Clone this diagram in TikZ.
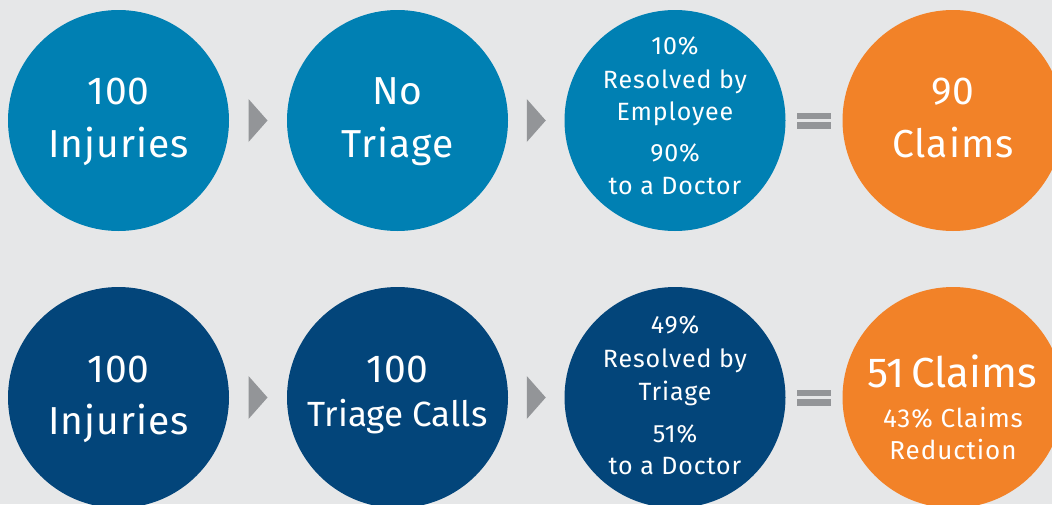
\documentclass[tikz,border=0pt]{standalone}
\usepackage{fontspec}
\setmainfont{Fira Sans}
\usetikzlibrary{calc}
\definecolor{bg}{HTML}{E6E7E8}
\definecolor{topblue}{HTML}{0080B3}
\definecolor{navy}{HTML}{03457A}
\definecolor{orangec}{HTML}{F28228}
\definecolor{arrowgray}{HTML}{939598}
\begin{document}
\begin{tikzpicture}[x=1pt,y=-1pt,
  bubble/.style={circle,inner sep=0pt,minimum size=221pt},
  topb/.style={bubble,fill=topblue},
  botb/.style={bubble,fill=navy},
  resb/.style={bubble,fill=orangec},
  txt/.style={text=white,anchor=base,inner sep=0pt},
  big/.style={txt,font=\fontsize{39}{39}\selectfont\addfontfeature{LetterSpace=2.5}},
  mid/.style={txt,font=\fontsize{35}{35}\selectfont},
  huge/.style={txt,font=\fontsize{42}{42}\selectfont},
  small/.style={txt,font=\fontsize{25}{25}\selectfont\addfontfeature{LetterSpace=3.5}},
  smallr/.style={txt,font=\fontsize{26}{26}\selectfont\addfontfeature{LetterSpace=3.5}},
]
\fill[bg] (0,0) rectangle (1052,504);
\useasboundingbox (0,0) rectangle (1052,504);
\clip (0,0) rectangle (1052,504);

% circles
\node[topb] (t1) at (118.5,120.5) {};
\node[topb] (t2) at (397.5,120.5) {};
\node[topb] (t3) at (675,120.5) {};
\node[resb] (t4) at (953,120.5) {};
\node[botb] (b1) at (118.5,397.5) {};
\node[botb] (b2) at (397.5,397.5) {};
\node[botb] (b3) at (675,397.5) {};
\node[resb] (b4) at (953,397.5) {};

% texts top row
\node[big] (t1a) at (118.5,104) {100};
\node[big] (t1b) at (118.5,157) {Injuries};
\node[big] (t2a) at (397.5,104) {No};
\node[big] (t2b) at (397.5,157) {Triage};
\node[small] (t3a) at (675,54) {10\%};
\node[small] (t3b) at (675,88) {Resolved by};
\node[small] (t3c) at (675,120) {Employee};
\node[small] (t3d) at (675,161) {90\%};
\node[small] (t3e) at (675,194) {to a Doctor};
\node[big] (t4a) at (953,104) {90};
\node[big] (t4b) at (953,157) {Claims};

% texts bottom row
\node[big] (b1a) at (118.5,382) {100};
\node[big] (b1b) at (118.5,434) {Injuries};
\node[big] (b2a) at (397.5,382) {100};
\node[mid] (b2b) at (397.5,426) {Triage Calls};
\node[small] (b3a) at (675,333) {49\%};
\node[small] (b3b) at (675,367) {Resolved by};
\node[small] (b3c) at (675,400) {Triage};
\node[small] (b3d) at (675,442) {51\%};
\node[small] (b3e) at (675,474) {to a Doctor};
\node[huge] (b4a) at (952,387) {51\,Claims};
\node[smallr] (b4b) at (953,427) {43\% Claims};
\node[smallr] (b4c) at (953,459) {Reduction};

% arrows
\foreach \l/\r/\n in {t1/t2/ta, t2/t3/tb, b1/b2/ba, b2/b3/bb}{
  \coordinate (\n) at ($(\l.east)!0.5!(\r.west)$);
  \fill[arrowgray] ($(\n)+(-9.5,-21.5)$) -- ($(\n)+(9.5,0)$) -- ($(\n)+(-9.5,21.5)$) -- cycle;
}
% equals signs
\foreach \l/\r/\n in {t3/t4/te, b3/b4/be}{
  \coordinate (\n) at ($(\l.east)!0.5!(\r.west)$);
  \fill[arrowgray] ($(\n)+(-17,-8)$) rectangle ($(\n)+(17,-1.75)$);
  \fill[arrowgray] ($(\n)+(-17,1.75)$) rectangle ($(\n)+(17,8)$);
}
\end{tikzpicture}
\end{document}
